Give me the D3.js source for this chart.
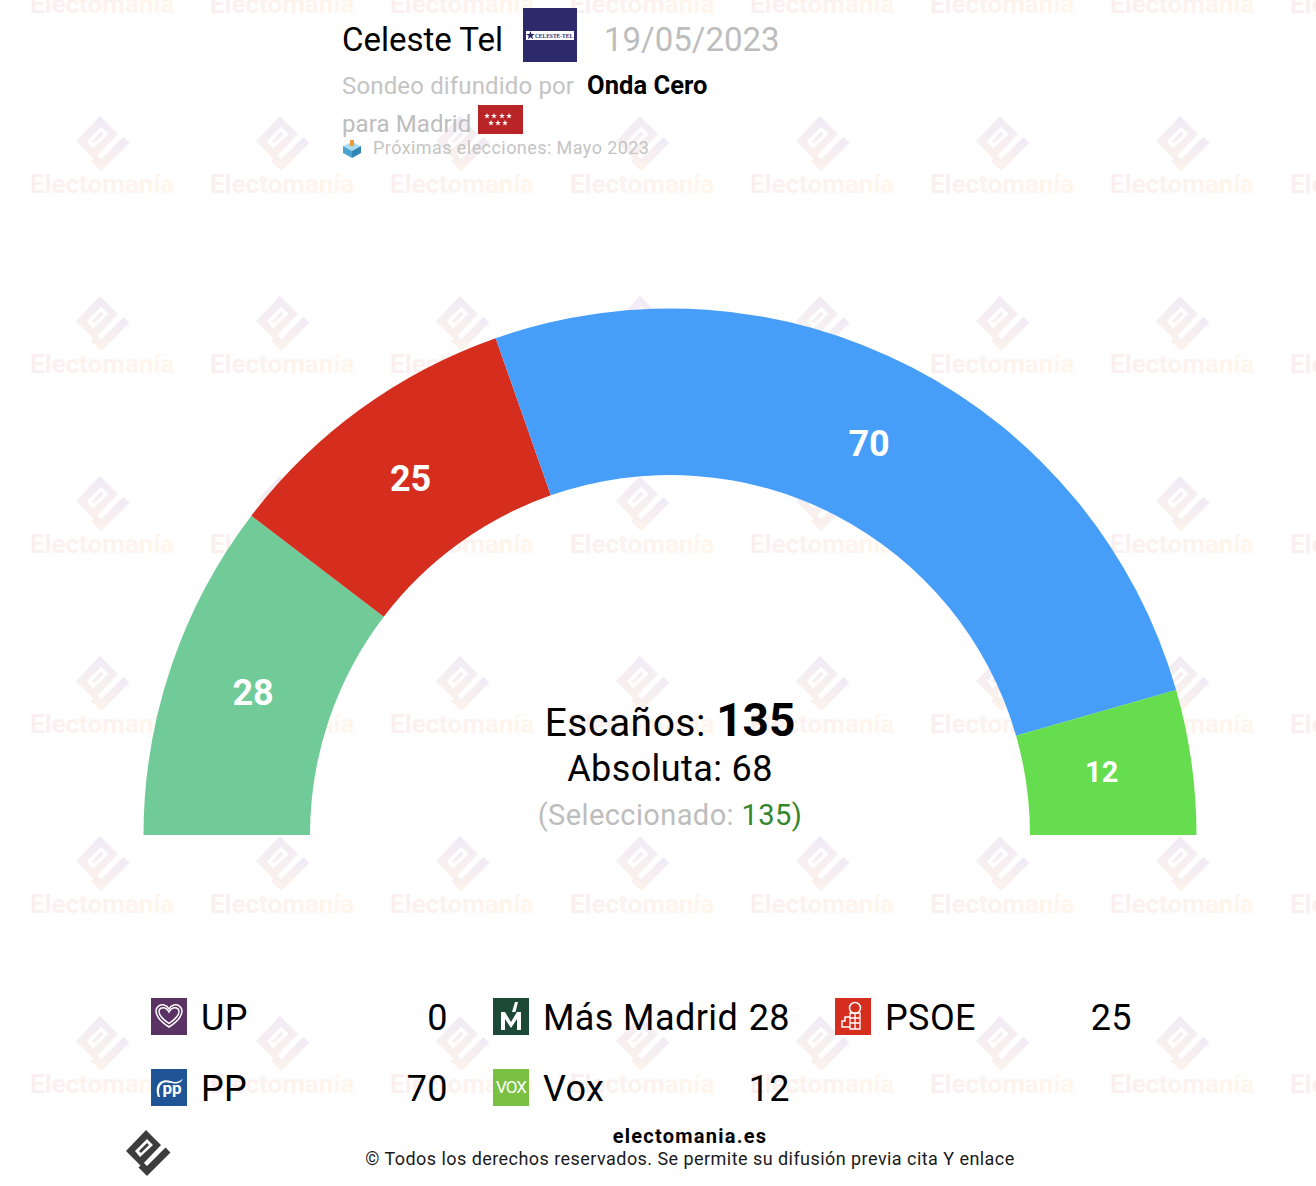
<!DOCTYPE html>
<html>
<head>
<meta charset="utf-8">
<script src="https://cdn.jsdelivr.net/npm/d3@7"></script>
<style>
html, body { margin: 0; padding: 0; background: #fff; }
svg { display: block; }
text { font-family: Roboto, sans-serif; }
</style>
</head>
<body>
<div id="chart"></div>
<script>
// poll data
var parties = ["UP", "Más Madrid", "PSOE", "PP", "Vox"];
var seats = [0, 28, 25, 70, 12];
var colors = ["#5b3264", "#70cb99", "#d52e1f", "#479ef9", "#66dd4e"];
var iconColors = ["#5b3264", "#1d4a36", "#d52e1f", "#1f5596", "#7ac143"];

var totalSeats = 135;
var majority = 68;
var selected = 135;

var svgWidth = 1316;
var svgHeight = 1186;

var svg = d3.select("#chart")
  .append("svg")
  .attr("width", svgWidth)
  .attr("height", svgHeight);

var defs = svg.append("defs");

function addGradient(id, x2, y2, from, to) {
  var g = defs.append("linearGradient").attr("id", id)
    .attr("x1", 0).attr("y1", 0).attr("x2", x2).attr("y2", y2);
  g.append("stop").attr("offset", "0%").attr("stop-color", from);
  g.append("stop").attr("offset", "100%").attr("stop-color", to);
}
addGradient("wmText", 1, 0, "#faeff0", "#fff6ec");
addGradient("wmLogo", 0, 1, "#f0eaf6", "#fbf2ec");

// logo is drawn on a 45x45 box
var logoDiamond = "M0 21L20 0L35 15L15 36ZM9 21L14 27L27 15L21 9Z";
var logoSlit = "M13 21L21 13L23 15L15 23Z";
var logoCheck = "M15 35L21 41L42 20";

function drawLogo(parent, x, y, size, fill) {
  var g = parent.append("g")
    .attr("transform", `translate(${x}, ${y}) scale(${size / 45})`);
  g.append("path").attr("d", logoDiamond).attr("fill", fill).attr("fill-rule", "evenodd");
  g.append("path").attr("d", logoSlit).attr("fill", fill);
  g.append("path").attr("d", logoCheck).attr("fill", "none")
    .attr("stroke", fill).attr("stroke-width", 7);
}

// watermark
var wm = svg.append("g");
d3.range(0, 8).forEach(function (col) {
  d3.range(0, 7).forEach(function (row) {
    var x = 30 + col * 180;
    var y = 13 + row * 180;
    drawLogo(wm, x + 46, y - 77, 54, "url(#wmLogo)");
    wm.append("text")
      .attr("x", x)
      .attr("y", y)
      .attr("font-size", 26)
      .attr("font-weight", 700)
      .attr("fill", "url(#wmText)")
      .text("Electomanía");
  });
});

// hemicycle
var cx = 670;
var cy = 835;
var outerRadius = 526.5;
var innerRadius = 360;
var labelRadius = 438;

var pie = d3.pie()
  .sort(null)
  .startAngle(-Math.PI / 2)
  .endAngle(Math.PI / 2)
  .value(function (d) { return d.seats; });

var arc = d3.arc()
  .innerRadius(innerRadius)
  .outerRadius(outerRadius);

var labelArc = d3.arc()
  .innerRadius(labelRadius)
  .outerRadius(labelRadius);

var partyData = parties.map(function (p, i) {
  return { name: p, seats: seats[i], color: colors[i] };
});

var chartGroup = svg.append("g")
  .attr("transform", `translate(${cx}, ${cy})`);

var slices = chartGroup.selectAll("g.slice")
  .data(pie(partyData).filter(function (d) { return d.data.seats > 0; }))
  .enter()
  .append("g")
  .classed("slice", true);

slices.append("path")
  .attr("d", arc)
  .attr("fill", function (d) { return d.data.color; });

slices.append("text")
  .attr("transform", function (d) {
    var c = labelArc.centroid(d);
    return `translate(${c[0] - 2}, ${c[1] - 2})`;
  })
  .attr("text-anchor", "middle")
  .attr("dominant-baseline", "central")
  .attr("font-weight", 700)
  .attr("font-size", function (d) { return d.data.seats < 20 ? 29 : 36; })
  .attr("fill", "#fff")
  .text(function (d) { return d.data.seats; });

// centre text
var t1 = svg.append("text").attr("x", cx).attr("y", 736).attr("text-anchor", "middle").attr("font-size", 39).attr("fill", "#000");
t1.append("tspan").attr("letter-spacing", 0.5).text("Escaños: ");
t1.append("tspan").attr("font-weight", 700).attr("font-size", 46).text(totalSeats);

svg.append("text").attr("x", cx).attr("y", 781).attr("text-anchor", "middle")
  .attr("font-size", 36).attr("letter-spacing", 0.4).attr("fill", "#000").text("Absoluta: " + majority);

var t3 = svg.append("text").attr("x", cx).attr("y", 825).attr("text-anchor", "middle")
  .attr("font-size", 29).attr("letter-spacing", 0.4).attr("fill", "#bdbdbd");
t3.append("tspan").text("(Seleccionado: ");
t3.append("tspan").attr("fill", "#35852a").text(selected);
t3.append("tspan").attr("fill", "#35852a").text(")");

// header
function label(x, y, size, color, weight, txt) {
  return svg.append("text").attr("x", x).attr("y", y).attr("font-size", size)
    .attr("fill", color).attr("font-weight", weight).text(txt);
}
label(342, 51, 33, "#000", 400, "Celeste Tel");
label(604, 51, 33, "#bdbdbd", 400, "19/05/2023");
label(342, 94, 24, "#c4c4c4", 400, "Sondeo difundido por").attr("letter-spacing", 0.15);
label(587, 94, 25.5, "#000", 700, "Onda Cero").attr("letter-spacing", 0.05);
label(342, 132, 24, "#bdbdbd", 400, "para Madrid").attr("letter-spacing", 0.1);
label(373, 154, 18, "#c4c4c4", 400, "Próximas elecciones: Mayo 2023").attr("letter-spacing", 0.43);

// pollster badge
svg.append("rect").attr("x", 523).attr("y", 8).attr("width", 54).attr("height", 54).attr("fill", "#2c2a6b");
svg.append("rect").attr("x", 526).attr("y", 31).attr("width", 48).attr("height", 9).attr("fill", "#fff");
svg.append("path").attr("d", d3.symbol(d3.symbolStar, 24)).attr("transform", "translate(530.500, 35.500)").attr("fill", "#2c2a6b");
svg.append("text").attr("x", 554).attr("y", 38).attr("text-anchor", "middle")
  .style("font-family", "Liberation Serif")
  .attr("font-size", 5.5).attr("font-weight", 700).attr("fill", "#2c2a6b").text("CELESTE-TEL");

// Madrid flag
svg.append("rect").attr("x", 478).attr("y", 105).attr("width", 45).attr("height", 29).attr("fill", "#b92526");
[[486, 116], [493, 116], [501, 116], [508, 116], [490, 123], [497, 123], [504, 123]].forEach(function (p) {
  svg.append("path").attr("d", d3.symbol(d3.symbolStar, 11))
    .attr("transform", `translate(${p[0] + 1}, ${p[1]})`).attr("fill", "#fff");
});

// ballot box
svg.append("path").attr("d", "M343 146L352 142L361 146L352 151Z").attr("fill", "#a9dcef");
svg.append("path").attr("d", "M343 146L352 151V158L343 153Z").attr("fill", "#4aa3d0");
svg.append("path").attr("d", "M361 146L352 151V158L361 153Z").attr("fill", "#2f86b5");
svg.append("rect").attr("x", 350).attr("y", 140).attr("width", 4).attr("height", 6).attr("fill", "#ef9a3c");

// legend
var legendX = d3.scalePoint().domain([0, 1, 2]).range([151, 835]);
var legendY = d3.scalePoint().domain([0, 1]).range([998, 1069]);
var iconSize = 36;

var legend = svg.selectAll("g.legend")
  .data(partyData)
  .enter()
  .append("g")
  .classed("legend", true)
  .attr("transform", function (d, i) {
    return `translate(${legendX(i % 3)}, ${legendY(Math.floor(i / 3))})`;
  });

legend.append("rect")
  .attr("width", iconSize)
  .attr("height", iconSize + 1)
  .attr("fill", function (d, i) { return iconColors[i]; });

legend.append("text")
  .attr("x", 50)
  .attr("y", 31.5)
  .attr("font-size", 36)
  .attr("letter-spacing", 0.4)
  .attr("fill", "#000")
  .text(function (d) { return d.name; });

legend.append("text")
  .attr("x", 297)
  .attr("y", 31.5)
  .attr("text-anchor", "end")
  .attr("font-size", 36)
  .attr("letter-spacing", 0.4)
  .attr("fill", "#000")
  .text(function (d) { return d.seats; });

// party badges
var up = legend.filter(function (d) { return d.name === "UP"; });
["M18 29C7 22 5 17 5 13C5 9 9 6 13 7C15 7.500 17 9 18 11C19 9 21 7.500 23 7C27 6 31 9 31 13C31 17 29 22 18 29Z",
 "M18 25.500C10 20 8 16 8 13.500C8 10.500 11 9 14 10C16 10.500 17 12 18 14C19 12 20 10.500 22 10C25 9 28 10.500 28 13.500C28 16 26 20 18 25.500Z"
].forEach(function (d) {
  up.append("path").attr("d", d).attr("fill", "none").attr("stroke", "#fff").attr("stroke-width", 1.5);
});

var mm = legend.filter(function (d) { return d.name === "Más Madrid"; });
mm.append("path").attr("d", "M8 32V14H12L18 24L24 14H28V32H24V21L18 30L12 21V32Z").attr("fill", "#fff");
mm.append("path").attr("d", "M19 14L22 4H25L22.500 14Z").attr("fill", "#fff");

var ps = legend.filter(function (d) { return d.name === "PSOE"; });
ps.append("circle").attr("cx", 20).attr("cy", 10).attr("r", 5.500).attr("fill", "none").attr("stroke", "#fff").attr("stroke-width", 1.5);
ps.append("path").attr("d", "M15 15H25V31H15ZM15 20H25M15 25H25M20 15V31").attr("fill", "none").attr("stroke", "#fff").attr("stroke-width", 1.3);
ps.append("path").attr("d", "M15 19H10V23H7V29H15").attr("fill", "none").attr("stroke", "#fff").attr("stroke-width", 1.5);

var pp = legend.filter(function (d) { return d.name === "PP"; });
pp.append("text").attr("x", 21).attr("y", 25).attr("text-anchor", "middle").attr("font-size", 17).attr("font-weight", 700).attr("fill", "#fff").text("pp");
pp.append("path").attr("d", "M7 28C4 20 6 13 13 11.500C19 10.500 22 14.500 27 12.500C30 11.500 31 10.500 32 9.500C31 13 27 15 23 14.500C18 14 15 12.500 12 14C8 16 7 22 9 28Z").attr("fill", "#fff");

var vx = legend.filter(function (d) { return d.name === "Vox"; });
vx.append("text").attr("x", 18).attr("y", 24).attr("text-anchor", "middle").attr("font-size", 17).attr("letter-spacing", -1).attr("fill", "#fff").text("VOX");

// footer
drawLogo(svg, 126, 1130, 45, "#3d3d3d");
svg.append("text").attr("x", 690).attr("y", 1143).attr("text-anchor", "middle")
  .attr("font-size", 20).attr("font-weight", 700).attr("letter-spacing", 1.25).attr("fill", "#000").text("electomania.es");
svg.append("text").attr("x", 690).attr("y", 1165).attr("text-anchor", "middle")
  .attr("font-size", 18).attr("letter-spacing", 0.45).attr("fill", "#1a1a1a")
  .text("© Todos los derechos reservados. Se permite su difusión previa cita Y enlace");
</script>
</body>
</html>
